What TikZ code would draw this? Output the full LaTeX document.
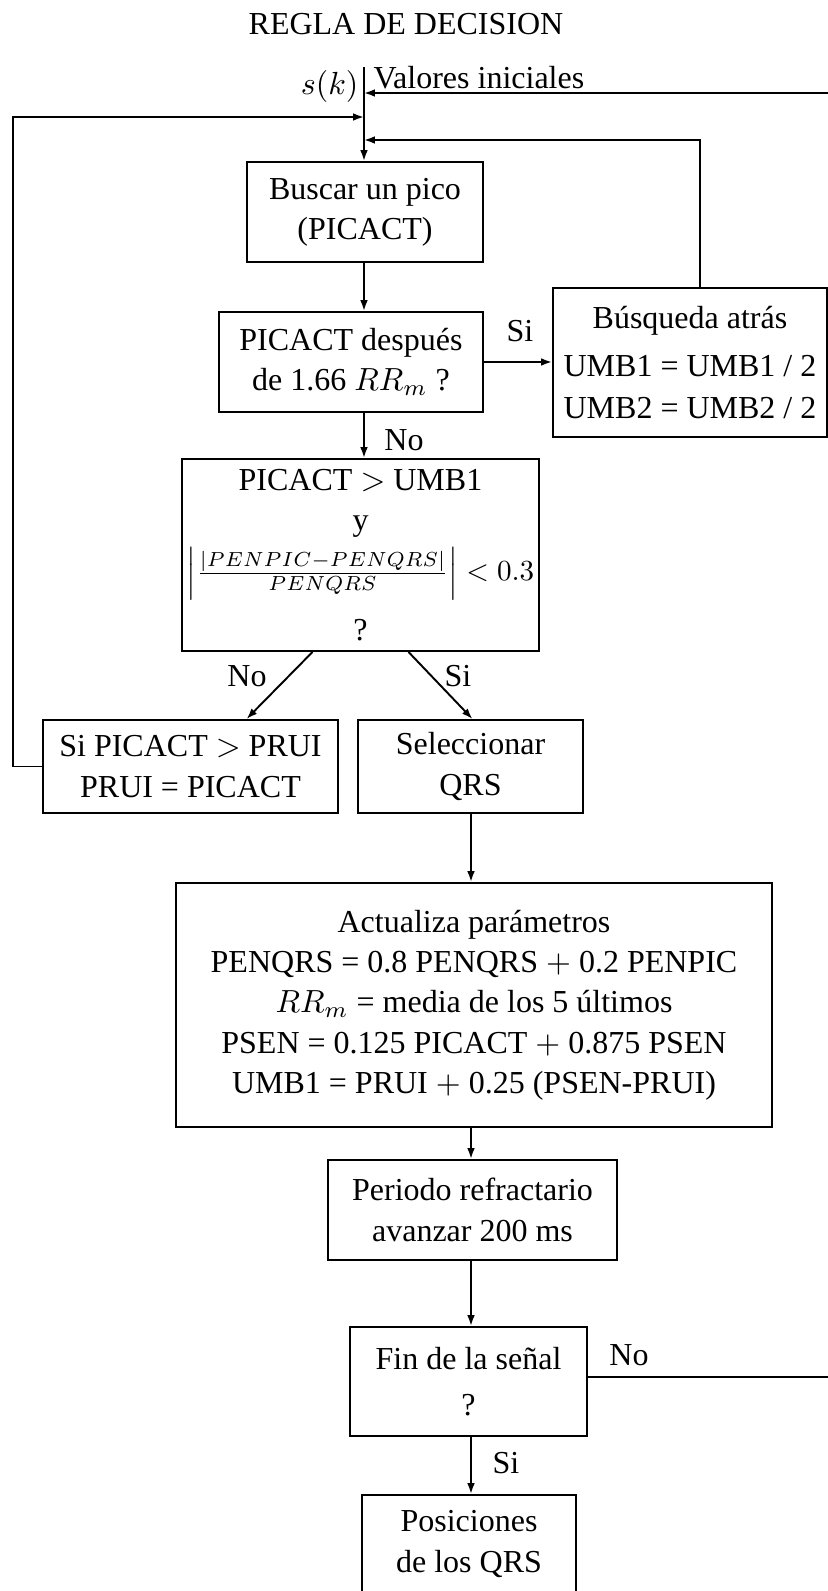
\documentclass[tikz,border=0pt]{standalone}
\usepackage{fontspec}
\setmainfont{Liberation Serif}
\usetikzlibrary{arrows.meta,calc}
\begin{document}
\begin{tikzpicture}[x=0.3125pt,y=-0.3125pt,
  every node/.style={font=\fontsize{10}{12.6}\selectfont},
  box/.style={draw, line width=0.6pt, inner sep=0pt, align=center},
  dims/.style 2 args={minimum width=#1*0.3125pt, minimum height=#2*0.3125pt},
  lbl/.style={inner sep=0pt},
  ln/.style={line width=0.6pt},
  arr/.style={line width=0.6pt, -{Latex[length=3.4pt,width=2.4pt]}}]
\useasboundingbox (0,0) rectangle (828,1591);
\clip (0,0) rectangle (828,1591);

% title and inputs
\node[lbl] (title) at (406,24) {REGLA DE DECISION};
\node[lbl, anchor=base east] (sk) at (359,94) {$s(k)$};
\node[lbl, anchor=base west] (vi) at (373,88) {Valores iniciales};

% junction points on the main input line
\coordinate (in) at (364,67);
\coordinate (j1) at (364,93);
\coordinate (j3) at (364,117);
\coordinate (j2) at (364,140);
\coordinate (r1) at (828,93);
\coordinate (r2) at (700,140);
\coordinate (l1) at (13,117);
\coordinate (r3) at (828,1377);
\coordinate (cx) at (471,0);

% boxes
\node[box, dims={236}{100}] (b1) at (365,212) {Buscar un pico\\(PICACT)};
\node[box, dims={264}{100}] (b2) at (351,362) {PICACT después\\de 1.66 $RR_m$ ?};
\node[box, dims={274}{149}] (bus) at (690,362.5) {Búsqueda atrás\\[2.5pt]UMB1 = UMB1 / 2\\[0.5pt]UMB2 = UMB2 / 2};
\node[box, dims={357}{192}] (dec) at (360.5,555) {PICACT $>$ UMB1\\y\\[2pt]\scalebox{0.91}{$\left|\frac{|PENPIC-PENQRS|}{PENQRS}\right| < 0.3$}\\[6pt]?};
\node[box, dims={295}{93}] (bl) at (190.5,766.5) {Si PICACT $>$ PRUI\\PRUI = PICACT};
\node[box, dims={225}{93}] (sel) at (470.5,766.5) {Seleccionar\\QRS};
\node[box, dims={596}{244}] (big) at (474,1005) {Actualiza parámetros\\PENQRS = 0.8 PENQRS $+$ 0.2 PENPIC\\$RR_m$ = media de los 5 últimos\\PSEN = 0.125 PICACT $+$ 0.875 PSEN\\UMB1 = PRUI $+$ 0.25 (PSEN-PRUI)};
\node[box, dims={289}{100}] (per) at (472.5,1210) {Periodo refractario\\avanzar 200 ms};
\node[box, dims={237}{109}] (fin) at (468.5,1381.5) {Fin de la señal\\[1.8pt]?};
\node[box, dims={214}{98}] (pos) at (469,1544) {Posiciones\\de los QRS};

% branch labels
\node[lbl] (si1) at (520,331) {Si};
\node[lbl] (no1) at (404,440) {No};
\node[lbl] (no2) at (247,676) {No};
\node[lbl] (si2) at (458,676) {Si};
\node[lbl] (no3) at (629,1355) {No};
\node[lbl] (si3) at (506,1463) {Si};

% main flow
\draw[ln] (in) -- (j1);
\draw[arr] (j1) -- (in |- b1.north);
\draw[arr] (in |- b1.south) -- (in |- b2.north);
\draw[arr] (b2.east) -- (b2.east -| bus.west);
\draw[arr] (in |- b2.south) -- (in |- dec.north);
\draw[arr] ($(dec.south)+(-48,0)$) -- ($(bl.north)+(56,0)$);
\draw[arr] ($(dec.south)+(48,0)$) -- ($(sel.north)+(2,0)$);
\draw[arr] (cx |- sel.south) -- (cx |- big.north);
\draw[arr] (cx |- big.south) -- (cx |- per.north);
\draw[arr] (cx |- per.south) -- (cx |- fin.north);
\draw[arr] (cx |- fin.south) -- (cx |- pos.north);

% feedback loops
\draw[arr] (r1) -- (j1);
\draw[arr] (r2 |- bus.north) -- (r2) -- (j2);
\draw[arr] (bl.west) -| (l1) -- (j3);
\draw[ln] (fin.east |- r3) -- (r3);
\end{tikzpicture}
\end{document}
